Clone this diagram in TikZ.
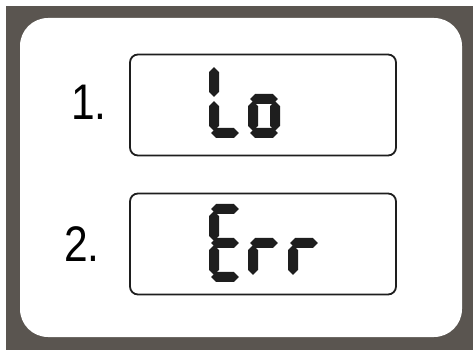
\documentclass[tikz,border=0pt]{standalone}
\usepackage{fontspec}
\setmainfont{Liberation Sans}
\newfontfamily\narrowfont[FakeStretch=0.85]{Liberation Sans}
\definecolor{frame}{RGB}{90,85,80}
\definecolor{ink}{RGB}{30,30,30}
\begin{document}
\begin{tikzpicture}[
   x=1pt,y=1pt,
   font=\narrowfont\fontsize{50}{50}\selectfont,
   display/.style={draw=ink,line width=1.8pt,rounded corners=8pt,minimum width=266pt,minimum height=101pt,inner sep=0pt},
   itemno/.style={anchor=base west,inner sep=0pt},
   segment/.style={fill=ink},
   glyph/.style={xslant=0.05},
   seg a/.pic={\fill[segment] (2.2,73) -- (7.2,78) -- (24.8,78) -- (29.8,73) -- (24.8,68) -- (7.2,68) -- cycle;},
   seg c/.pic={\fill[segment] (27,7.2) -- (32,12.2) -- (32,31.8) -- (27,36.8) -- (22,31.8) -- (22,12.2) -- cycle;},
   seg d/.pic={\fill[segment] (2.2,5) -- (7.2,10) -- (24.8,10) -- (29.8,5) -- (24.8,0) -- (7.2,0) -- cycle;},
   seg e/.pic={\fill[segment] (5,7.2) -- (10,12.2) -- (10,31.8) -- (5,36.8) -- (0,31.8) -- (0,12.2) -- cycle;},
   seg f/.pic={\fill[segment] (5,41.2) -- (10,46.2) -- (10,65.8) -- (5,70.8) -- (0,65.8) -- (0,46.2) -- cycle;},
   seg g/.pic={\fill[segment] (2.2,39) -- (7.2,44) -- (24.8,44) -- (29.8,39) -- (24.8,34) -- (7.2,34) -- cycle;},
   L/.pic={\pic {seg d}; \pic {seg e}; \pic {seg f};},
   o/.pic={\pic {seg c}; \pic {seg d}; \pic {seg e}; \pic {seg g};},
   E/.pic={\pic {seg a}; \pic {seg d}; \pic {seg e}; \pic {seg f}; \pic {seg g};},
   r/.pic={\pic {seg e}; \pic {seg g};}]
\useasboundingbox (0,0) rectangle (473,353);
% casing
\fill[frame] (6,3) rectangle (473,347);
\fill[white,rounded corners=28pt] (20,16) rectangle (462,335);
% the two readings
\node[display] (lo) at (263,248) {};
\node[display] (err) at (263,109) {};
\node[itemno] (one) at (71,233) {1.};
\node[itemno] (two) at (64,91) {2.};
\pic[glyph] at (209,215) {L};
\pic[glyph] at (248,215) {o};
\pic[glyph] at (209,71) {E};
\pic[glyph] at (248,71) {r};
\pic[glyph] at (288,71) {r};
\end{tikzpicture}
\end{document}
